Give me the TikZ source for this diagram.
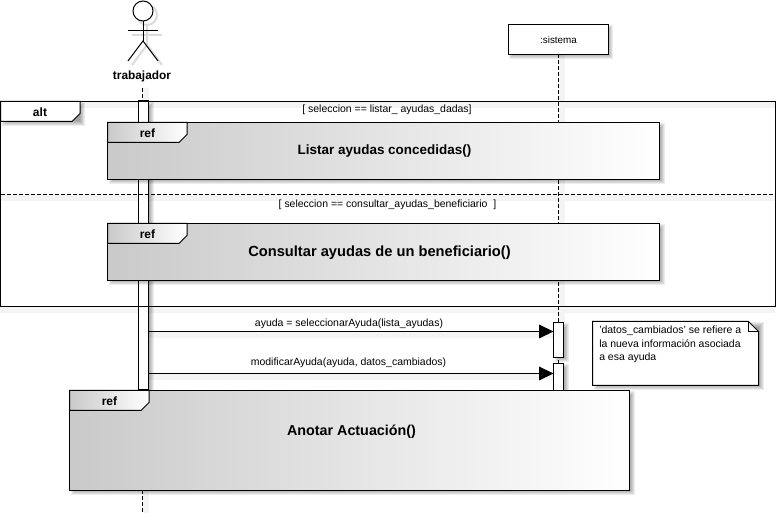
\documentclass[tikz,border=0pt]{standalone}
\usepackage{fontspec}
\setmainfont{Liberation Sans}
\usetikzlibrary{arrows.meta}
\newdimen\pxu \pxu=0.75pt
\definecolor{refgray}{gray}{0.79}
\definecolor{bandgray}{gray}{0.955}
% soft shadow of a rectangle x1,y1,x2,y2 (pixels)
\newcommand{\softshadow}[4]{%
  \foreach \k in {0,1,...,5}{%
    \fill[black,opacity=0.07] ({#1+6-\k},{#2+6-\k}) rectangle ({#3+\k},{#4+\k});
  }}
\newcommand{\hband}[3]{\fill[bandgray] (#1,#3) rectangle (#2,#3+6.5);}
\newcommand{\vband}[3]{\fill[bandgray] (#1,#2) rectangle (#1+6,#3);}
% ref frame: x1,y1,x2,y2,name
\newcommand{\refframe}[5]{%
  \softshadow{#1}{#2}{#3}{#4}
  \shade[left color=refgray,right color=white,shading angle=90] (#1,#2) rectangle (#3,#4);
  \node[framebox,minimum width={(#3-#1)*\pxu},minimum height={(#4-#2)*\pxu},anchor=north west] (#5) at (#1,#2) {};
  \shade[left color=refgray,right color=white] (#1,#2) -- (#1+79.5,#2) -- (#1+79.5,#2+12) -- (#1+71.5,#2+20) -- (#1,#2+20) -- cycle;
  \draw[lin] (#1,#2) -- (#1+79.5,#2) -- (#1+79.5,#2+12) -- (#1+71.5,#2+20) -- (#1,#2+20) -- cycle;
  \node[tabtxt] at (#1+40,#2+10.5) {ref};
  }
\tikzset{
  x=0.75pt,y=-0.75pt,
  lin/.style={draw=black,line width=0.75pt},
  framebox/.style={draw=black,line width=0.75pt,inner sep=0pt,outer sep=0pt},
  bar/.style={framebox,fill=white,minimum width=7.5pt},
  lifeline/.style={draw=black,line width=0.75pt,dash pattern=on 3pt off 1.5pt},
  msg/.style={draw=black,line width=0.75pt},
  head/.style={fill=black,draw=none},
  small/.style={font=\fontsize{7.85pt}{9pt}\selectfont,inner sep=0pt},
  tabtxt/.style={font=\bfseries\fontsize{9pt}{11pt}\selectfont,inner sep=0pt},
  title/.style={font=\bfseries\fontsize{#1}{13pt}\selectfont,inner sep=0pt},
}
\begin{document}
\begin{tikzpicture}
\useasboundingbox (0,0) rectangle (776,516);
\fill[white] (0,0) rectangle (776,516);
% light shadow bands
\hband{0}{775}{102}
\hband{0}{775}{195}
\hband{0}{775}{307}
\hband{149}{553}{332}
\hband{149}{553}{374}
\vband{559}{55}{322}
\vband{143}{490}{513}
\vband{143}{88}{101}
% actor
\begin{scope}[xshift=3pt,yshift=-3pt,draw=black!14,line width=1.5pt]
  \draw (143,11) circle (10);
  \draw (143,21) -- (143,41) (128,31) -- (158,31) (128,61) -- (143,41) -- (158,61);
\end{scope}
\node[circle,draw=black,fill=white,line width=0.75pt,minimum size=15pt,inner sep=0pt,outer sep=0pt] (actorhead) at (143,11) {};
\coordinate (hip) at (143,41);
\draw[lin] (actorhead.south) -- (hip);
\draw[lin] (128,31) -- (158,31);
\draw[lin] (128,61) -- (hip) -- (158,61);
\node[font=\bfseries\fontsize{8.9pt}{10pt}\selectfont,inner sep=0pt] (actor) at (142,76) {trabajador};
% sistema
\softshadow{508}{24.5}{608}{54.5}
\node[framebox,fill=white,minimum width=75pt,minimum height=22.5pt,anchor=north west,font=\fontsize{7.4pt}{9pt}\selectfont] (sis) at (508.5,24.5) {:sistema};
% lifelines
\coordinate (sisend) at (558.5,391);
\coordinate (actend) at (142.5,513);
\draw[lifeline] (sis.south) -- (sisend);
\draw[lifeline] (142.5,88) -- (actend);
% activations
\softshadow{138.5}{101}{148.5}{390}
\node[bar,minimum height=216.75pt,anchor=north west] (act) at (138.5,101) {};
\softshadow{553.5}{322.5}{563.5}{357.5}
\node[bar,minimum height=26.25pt,anchor=north west] (sa) at (553.5,322.5) {};
\softshadow{553.5}{363.5}{563.5}{391}
\node[bar,minimum height=20.6pt,anchor=north west] (sb) at (553.5,363.5) {};
% alt frame
\node[framebox,minimum width=581.25pt,minimum height=153.75pt,anchor=north west] (alt) at (0.5,101.5) {};
\draw[lin,dash pattern=on 3pt off 1.5pt] (alt.west |- 0,194.5) -- (alt.east |- 0,194.5);
\softshadow{0.5}{101.5}{80}{121.5}
\fill[white] (0.5,101.5) -- (80,101.5) -- (80,113.5) -- (72,121.5) -- (0.5,121.5) -- cycle;
\draw[lin] (0.5,101.5) -- (80,101.5) -- (80,113.5) -- (72,121.5) -- (0.5,121.5) -- cycle;
\node[tabtxt] at (40,112) {alt};
\node[small] at (387,109.5) {[ seleccion == listar\_ ayudas\_dadas]};
\node[small] at (387.5,204.5) {[ seleccion == consultar\_ayudas\_beneficiario\ \ ]};
% refs
\refframe{107.5}{122.5}{659.5}{179.5}{refa}
\node[title=10.1pt] at (384.5,151.5) {Listar ayudas concedidas()};
\refframe{107.5}{223.5}{659.5}{280.5}{refb}
\node[title=11pt] at (379.5,252.5) {Consultar ayudas de un beneficiario()};
% messages
\coordinate (a1) at (act.east |- 0,331.5);
\coordinate (a2) at (act.east |- 0,373.5);
\coordinate (s1) at (sa.west |- 0,331.5);
\coordinate (s2) at (sb.west |- 0,373.5);
\draw[msg] (a1) -- (s1);
\draw[msg] (a2) -- (s2);
\fill[head] (s1) -- ++(-14.5,-7) -- ++(0,14) -- cycle;
\fill[head] (s2) -- ++(-14.5,-7) -- ++(0,14) -- cycle;
\node[small] at (349,323.5) {ayuda = seleccionarAyuda(lista\_ayudas)};
\node[small] at (348.5,362.5) {modificarAyuda(ayuda, datos\_cambiados)};
% third ref
\refframe{69.5}{390.5}{629.5}{490.5}{refc}
\node[title=10.75pt] at (351.5,432) {Anotar Actuación()};
% note
\softshadow{592.5}{321.5}{758.5}{385.5}
\fill[white] (592.5,321.5) -- (748.5,321.5) -- (758.5,331.5) -- (758.5,385.5) -- (592.5,385.5) -- cycle;
\draw[lin] (592.5,321.5) -- (748.5,321.5) -- (758.5,331.5) -- (758.5,385.5) -- (592.5,385.5) -- cycle;
\draw[lin] (748.5,321.5) -- (748.5,331.5) -- (758.5,331.5);
\node[small,anchor=west] (note1) at (599,330.5) {'datos\_cambiados' se refiere a};
\node[small,anchor=west] (note2) at (599,344) {la nueva información asociada};
\node[small,anchor=west] (note3) at (599,357.5) {a esa ayuda};
\end{tikzpicture}
\end{document}
